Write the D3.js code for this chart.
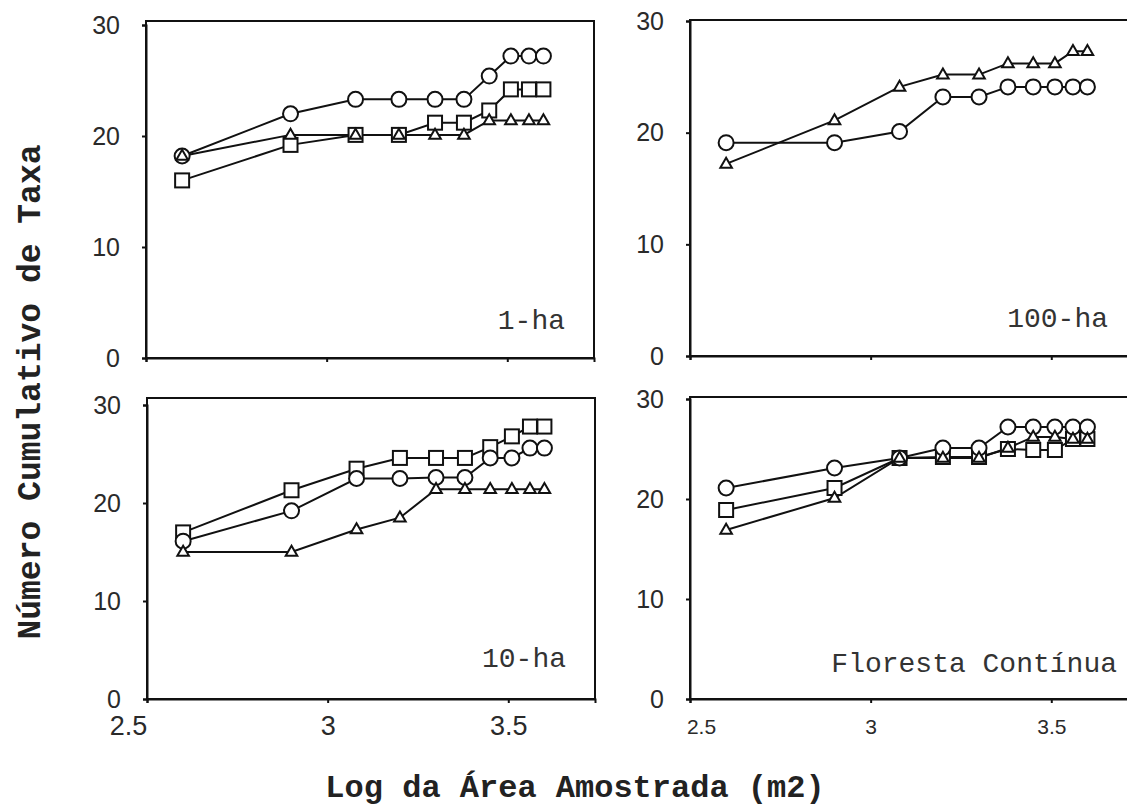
<!DOCTYPE html>
<html>
<head>
<meta charset="utf-8">
<script src="https://cdnjs.cloudflare.com/ajax/libs/d3/7.8.5/d3.min.js"></script>
<style>
  body { margin: 0; background: #fff; }
</style>
</head>
<body>
<script>
// log10 of sampled area (m2)
const logArea = [2.60, 2.90, 3.08, 3.20, 3.30, 3.38, 3.45, 3.51, 3.56, 3.60];
const yTicks = [0, 10, 20, 30];
const xTicks = [2.5, 3, 3.5];

const ha1Circle   = [18.2, 22.0, 23.3, 23.3, 23.3, 23.3, 25.4, 27.2, 27.2, 27.2];
const ha1Square   = [16.0, 19.2, 20.1, 20.1, 21.2, 21.2, 22.3, 24.2, 24.2, 24.2];
const ha1Triangle = [18.2, 20.1, 20.1, 20.1, 20.1, 20.1, 21.4, 21.4, 21.4, 21.4];

const ha100Circle   = [19.1, 19.1, 20.1, 23.2, 23.2, 24.1, 24.1, 24.1, 24.1, 24.1];
const ha100Triangle = [17.2, 21.1, 24.1, 25.2, 25.2, 26.2, 26.2, 26.2, 27.3, 27.3];

const ha10Square   = [17.0, 21.3, 23.5, 24.6, 24.6, 24.6, 25.7, 26.8, 27.8, 27.8];
const ha10Circle   = [16.1, 19.2, 22.5, 22.5, 22.6, 22.6, 24.6, 24.6, 25.6, 25.6];
const ha10Triangle = [15.0, 15.0, 17.3, 18.5, 21.4, 21.4, 21.4, 21.4, 21.4, 21.4];

const contSquare   = [18.9, 21.1, 24.1, 24.2, 24.2, 25.0, 24.9, 24.9, 26.0, 26.0];
const contCircle   = [21.1, 23.1, 24.1, 25.1, 25.1, 27.2, 27.2, 27.2, 27.2, 27.2];
const contTriangle = [16.9, 20.1, 24.1, 24.1, 24.1, 25.1, 26.2, 26.2, 26.0, 26.0];

(function() {
    let w = 1127,
        h = 806,
        panelW = 448;

    let panels = [
        {label: "1-ha", left: 146, top: 21, bottom: 358, y30: 25, labelX: 565, labelY: 329,
         series: [["square", ha1Square], ["circle", ha1Circle], ["triangle", ha1Triangle]]},
        {label: "100-ha", left: 690, top: 20, bottom: 356, y30: 21, labelX: 1108, labelY: 327,
         series: [["circle", ha100Circle], ["triangle", ha100Triangle]]},
        {label: "10-ha", left: 147, top: 398, bottom: 699, y30: 405, labelX: 566, labelY: 667,
         xLabels: true, xFont: 27, xPad: 13, firstDx: -19,
         series: [["square", ha10Square], ["circle", ha10Circle], ["triangle", ha10Triangle]]},
        {label: "Floresta Contínua", left: 690, top: 397, bottom: 699, y30: 399, labelX: 1117, labelY: 672,
         xLabels: true, xFont: 21, xPad: 16, firstDx: 11,
         series: [["square", contSquare], ["circle", contCircle], ["triangle", contTriangle]]}
    ];

    let svg = d3.select("body")
        .append("svg")
        .attr("width", w)
        .attr("height", h)
        .style("font-family", "'Liberation Sans', Arial, sans-serif");

    svg.append("rect").attr("width", w).attr("height", h).attr("fill", "#fff");

    let tri = d3.symbol().type(d3.symbolTriangle).size(58);

    panels.forEach(function(p) {
        let x = d3.scaleLinear().domain([2.5, 3.74]).range([p.left, p.left + panelW]);
        let y = d3.scaleLinear().domain([0, 30]).range([p.bottom, p.y30]);
        let g = svg.append("g");

        // frame
        g.append("rect")
            .attr("x", p.left).attr("y", p.top)
            .attr("width", panelW).attr("height", p.bottom - p.top)
            .attr("fill", "none").attr("stroke", "#111").attr("stroke-width", 2);

        // y axis
        let ya = g.append("g")
            .attr("transform", "translate(" + p.left + ",0)")
            .call(d3.axisLeft(y).tickValues(yTicks).tickSize(4).tickPadding(22));
        ya.select(".domain").attr("stroke", "#111").attr("stroke-width", 2);
        ya.selectAll(".tick line").attr("stroke", "#111").attr("stroke-width", 2);
        ya.selectAll("text")
            .style("font-size", "25px")
            .attr("fill", "#2a2a2a")
            .style("font-family", "'Liberation Sans', Arial, sans-serif");

        // x axis
        let xa = g.append("g")
            .attr("transform", "translate(0," + p.bottom + ")")
            .call(d3.axisBottom(x).tickValues(xTicks).tickSize(4).tickPadding(p.xPad || 12)
                .tickFormat(p.xLabels ? d3.format("") : ""));
        xa.select(".domain").attr("stroke", "#111").attr("stroke-width", 2);
        xa.selectAll(".tick line").attr("stroke", "#111").attr("stroke-width", 2);
        xa.selectAll("text")
            .style("font-size", (p.xFont || 20) + "px")
            .attr("fill", "#2a2a2a")
            .attr("dx", function(d) { return d === 2.5 ? p.firstDx : 0; })
            .style("font-family", "'Liberation Sans', Arial, sans-serif");

        // lines
        let line = d3.line()
            .x(function(d, i) { return x(logArea[i]); })
            .y(function(d) { return y(d); });

        p.series.forEach(function(s) {
            g.append("path")
                .attr("d", line(s[1]))
                .attr("fill", "none")
                .attr("stroke", "#111")
                .attr("stroke-width", 2);
        });

        // markers
        p.series.forEach(function(s) {
            let shape = s[0];
            let m = g.append("g")
                .attr("fill", "#fff")
                .attr("stroke", "#111")
                .attr("stroke-width", 2);
            s[1].forEach(function(v, i) {
                let cx = x(logArea[i]), cy = y(v);
                if (shape === "circle") {
                    m.append("circle").attr("cx", cx).attr("cy", cy).attr("r", 7.5);
                } else if (shape === "square") {
                    m.append("rect").attr("x", cx - 7).attr("y", cy - 7)
                        .attr("width", 14).attr("height", 14);
                } else {
                    m.append("path").attr("d", tri())
                        .attr("transform", "translate(" + cx + "," + (cy + 0.5) + ")");
                }
            });
        });

        // panel label
        g.append("text")
            .attr("x", p.labelX)
            .attr("y", p.labelY)
            .attr("text-anchor", "end")
            .attr("font-size", 28)
            .attr("fill", "#333")
            .style("font-family", "'Liberation Mono', 'Courier New', monospace")
            .text(p.label);
    });

    // axis titles
    svg.append("text")
        .attr("transform", "translate(40,392) rotate(-90)")
        .attr("text-anchor", "middle")
        .attr("font-size", 33)
        .attr("font-weight", "bold")
        .attr("fill", "#222")
        .style("font-family", "'Liberation Mono', 'Courier New', monospace")
        .text("Número Cumulativo de Taxa");

    svg.append("text")
        .attr("x", 575)
        .attr("y", 797)
        .attr("text-anchor", "middle")
        .attr("font-size", 32)
        .attr("font-weight", "bold")
        .attr("fill", "#222")
        .style("font-family", "'Liberation Mono', 'Courier New', monospace")
        .text("Log da Área Amostrada (m2)");
})();
</script>
</body>
</html>
